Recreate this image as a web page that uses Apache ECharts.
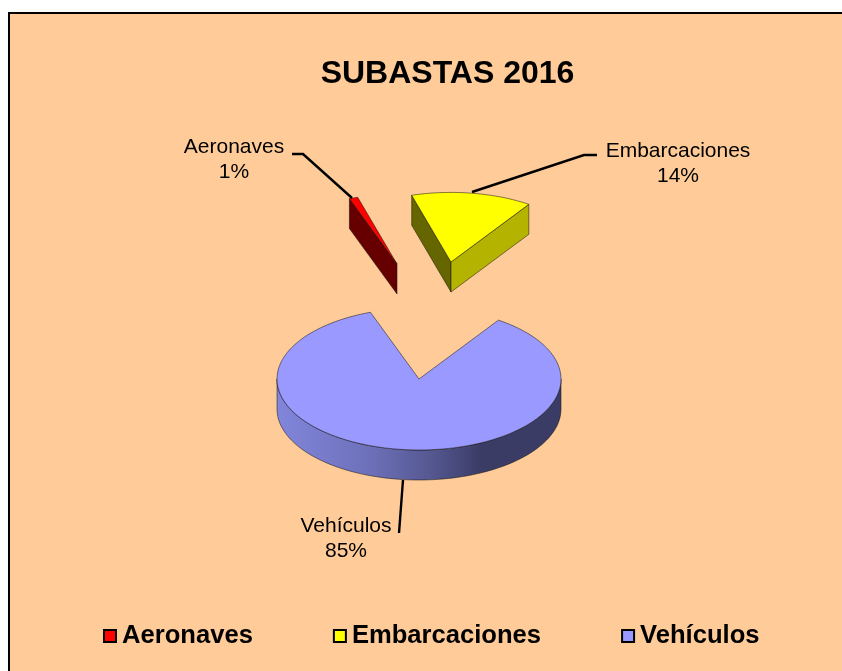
<!DOCTYPE html>
<html><head><meta charset="utf-8">
<style>html,body{margin:0;padding:0;background:#fff;overflow:hidden}#c{width:842px;height:671px}</style>
<script src="https://cdn.jsdelivr.net/npm/echarts@6/dist/echarts.min.js"></script>
</head><body><div id="c"></div>
<script>
const titleText = 'SUBASTAS 2016';
const categories = ['Aeronaves', 'Embarcaciones', 'Vehículos'];
const values = [1, 14, 85];
const topColors = ['#FF0000', '#FFFF00', '#9999FF'];
const leftFaceColors = ['#660000', '#666600', '#3d3d66'];
const rightFaceColors = ['#990000', '#B3B300', '#6b6bb3'];
const explodeOffsets = [[-22, -115], [32, -117], [0, 0]];
const radiusScales = [0.98, 0.98, 1];
const labelPositions = [[234, 160], [678, 164], [346, 539]];
const leaderPaths = [
  [[292, 154], [303, 154], [352, 198]],
  [[597, 155], [584, 155], [472, 192]],
  [[399, 533], [403, 480]]
];
const FONT = '"Liberation Sans", Arial, sans-serif';
const CX = 419, CY = 379, RX = 142, RY = 71, DEPTH = 30, START = 340;
const total = values.reduce((a, b) => a + b, 0);

function makeRender(idx) {
  const k = radiusScales[idx];
  function pt(cx, cy, deg, dz) {
    const a = deg * Math.PI / 180;
    return [cx + k * RX * Math.sin(a), cy - k * RY * Math.cos(a) + (dz || 0)];
  }
  function arc(cx, cy, a0, a1, dz) {
    const out = [], n = Math.max(2, Math.ceil(Math.abs(a1 - a0) / 2));
    for (let i = 0; i <= n; i++) out.push(pt(cx, cy, a0 + (a1 - a0) * i / n, dz));
    return out;
  }
  return function (params, api) {
    const value = api.value(0);
    let before = 0;
    for (let i = 0; i < idx; i++) before += values[i];
    const a0 = START + before / total * 360;
    const a1 = a0 + value / total * 360;
    const cx = CX + explodeOffsets[idx][0], cy = CY + explodeOffsets[idx][1];
    const children = [];
    const edge = { stroke: 'rgba(20,20,20,0.75)', lineWidth: 0.7 };
    const apexB = [cx, cy + DEPTH];
    const wall = (deg, fill) => {
      const p = pt(cx, cy, deg), q = pt(cx, cy, deg, DEPTH);
      children.push({ type: 'polygon', shape: { points: [[cx, cy], p, q, apexB] }, style: Object.assign({ fill }, edge) });
    };
    // a cut face shows only when it turns towards the viewer
    const rad = d => d * Math.PI / 180;
    if (Math.sin(rad(a0)) <= 0) wall(a0, leftFaceColors[idx]);
    if (Math.sin(rad(a1)) > 0 && value / total < 0.5) wall(a1, rightFaceColors[idx]);
    // outer rim: the part of the arc facing the viewer
    for (const [s, e] of [[90, 270], [450, 630]]) {
      const lo = Math.max(a0, s), hi = Math.min(a1, e);
      if (hi > lo) {
        const pts = arc(cx, cy, lo, hi).concat(arc(cx, cy, hi, lo, DEPTH));
        children.push({
          type: 'polygon', shape: { points: pts },
          style: Object.assign({
            fill: new echarts.graphic.LinearGradient(CX - RX, 0, CX + RX, 0, [
              { offset: 0, color: '#8286DC' },
              { offset: 0.33, color: '#6D70B8' },
              { offset: 0.55, color: '#54578F' },
              { offset: 0.72, color: '#3A3C66' },
              { offset: 1, color: '#3A3C66' }
            ], true)
          }, edge)
        });
      }
    }
    children.push({
      type: 'polygon',
      shape: { points: [[cx, cy]].concat(arc(cx, cy, a0, a1)) },
      style: Object.assign({ fill: topColors[idx] }, edge)
    });
    children.push({
      type: 'polyline', shape: { points: leaderPaths[idx] },
      style: { stroke: '#000', lineWidth: 2.4, fill: 'none' }
    });
    const pct = Math.round(value / total * 100) + '%';
    children.push({
      type: 'text', x: labelPositions[idx][0], y: labelPositions[idx][1],
      style: {
        text: categories[idx] + '\n' + pct, fill: '#000', font: '21px ' + FONT,
        lineHeight: 25, align: 'center', verticalAlign: 'middle'
      }
    });
    return { type: 'group', children };
  };
}
const chart = echarts.init(document.getElementById('c'), null, { renderer: 'canvas' });
chart.setOption({
  animation: false,
  backgroundColor: '#fff',
  graphic: [{
    type: 'rect', z: -10, silent: true,
    shape: { x: 9, y: 13, width: 860, height: 690 },
    style: { fill: '#FFCC99', stroke: '#000', lineWidth: 2 }
  }],
  title: {
    text: titleText, left: 442.5, top: 53, textAlign: 'center',
    textStyle: { fontFamily: FONT, fontWeight: 'bold', fontSize: 32, color: '#000' }
  },
  legend: {
    data: categories, left: 98, top: 618, icon: 'rect', itemWidth: 12, itemHeight: 12, itemGap: 80,
    itemStyle: { borderColor: '#000', borderWidth: 2 },
    textStyle: { fontFamily: FONT, fontWeight: 'bold', fontSize: 25.6, color: '#000', padding: [0, 0, 0, 1] }
  },
  series: categories.map((name, i) => ({
    type: 'custom', name, coordinateSystem: 'none', silent: true,
    itemStyle: { color: topColors[i] },
    data: [[values[i]]],
    renderItem: makeRender(i)
  }))
});
</script></body></html>
